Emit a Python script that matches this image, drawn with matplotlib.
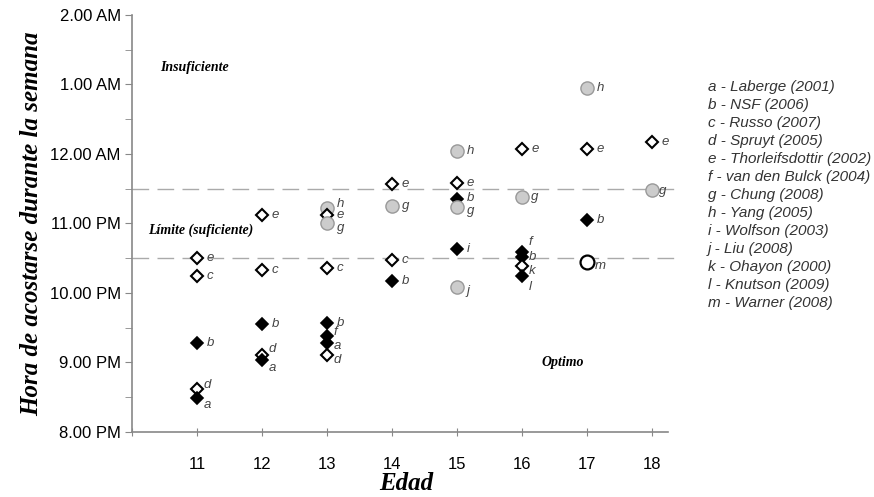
import matplotlib
matplotlib.use("Agg")
import matplotlib.pyplot as plt

# study key -> legend text
letters = ['a', 'b', 'c', 'd', 'e', 'f', 'g', 'h', 'i', 'j', 'k', 'l', 'm']
studies = ['Laberge (2001)', 'NSF (2006)', 'Russo (2007)', 'Spruyt (2005)',
           'Thorleifsdottir (2002)', 'van den Bulck (2004)', 'Chung (2008)',
           'Yang (2005)', 'Wolfson (2003)', 'Liu (2008)', 'Ohayon (2000)',
           'Knutson (2009)', 'Warner (2008)']

# points: age, bedtime in hours (24 = midnight), study letter
ages = [11, 11, 11, 11, 11,
        12, 12, 12, 12, 12,
        13, 13, 13, 13, 13, 13, 13, 13,
        14, 14, 14, 14,
        15, 15, 15, 15, 15, 15,
        16, 16, 16, 16, 16, 16,
        17, 17, 17, 17,
        18, 18]
hours = [22.50, 22.25, 21.28, 20.62, 20.49,
         23.12, 22.33, 21.55, 21.11, 21.04,
         23.22, 23.12, 23.01, 22.36, 21.57, 21.38, 21.28, 21.11,
         23.57, 23.25, 22.47, 22.17,
         24.04, 23.58, 23.35, 23.24, 22.63, 22.09,
         24.07, 23.38, 22.59, 22.52, 22.39, 22.25,
         24.95, 24.07, 23.05, 22.45,
         24.17, 23.48]
keys = ['e', 'c', 'b', 'd', 'a',
        'e', 'c', 'b', 'd', 'a',
        'h', 'e', 'g', 'c', 'b', 'f', 'a', 'd',
        'e', 'g', 'c', 'b',
        'h', 'e', 'b', 'g', 'i', 'j',
        'e', 'g', 'f', 'b', 'k', 'l',
        'h', 'e', 'b', 'm',
        'e', 'g']

ytick_vals = [20, 21, 22, 23, 24, 25, 26]
ytick_labels = ['8.00 PM', '9.00 PM', '10.00 PM', '11.00 PM', '12.00 AM', '1.00 AM', '2.00 AM']
limits = [22.5, 23.5]

filled = dict(marker='D', ms=6.5, mfc='black', mec='black', mew=1.2)
opend = dict(marker='D', ms=6.5, mfc='white', mec='black', mew=1.5)
grayc = dict(marker='o', ms=9.5, mfc='#cccccc', mec='#999999', mew=1.0)
openc = dict(marker='o', ms=10, mfc='white', mec='black', mew=1.6)
style = {'a': filled, 'b': filled, 'f': filled, 'i': filled, 'l': filled,
         'c': opend, 'd': opend, 'e': opend, 'k': opend,
         'g': grayc, 'h': grayc, 'j': grayc, 'm': openc}

# label offsets in points (default right of marker)
offsets = {(11, 'd'): (5, 3), (11, 'a'): (5, -5),
           (12, 'd'): (5, 4), (12, 'a'): (5, -6),
           (13, 'h'): (7, 3), (13, 'g'): (7, -4), (13, 'f'): (5, 3),
           (13, 'a'): (5, -2), (13, 'd'): (5, -4),
           (15, 'b'): (7, 1), (15, 'g'): (7, -3), (15, 'j'): (7, -3),
           (16, 'f'): (5, 7), (16, 'b'): (5, 0), (16, 'k'): (5, -4),
           (16, 'l'): (5, -8), (17, 'm'): (6, -3), (18, 'g'): (5, -1)}

serif = 'Liberation Serif'
sans = 'Liberation Sans'

fig = plt.figure(figsize=(8.74, 4.97), dpi=100)
ax = fig.add_axes([0.151, 0.131, 0.628, 0.839])

for y in limits:
    ax.axhline(y, color='#aaaaaa', lw=1.0, dashes=(12, 6), zorder=1)

for x, h, k in zip(ages, hours, keys):
    ax.plot([x], [h], linestyle='none', zorder=3, **style[k])
    dx, dy = offsets.get((x, k), (7, 0))
    ax.annotate(k, (x, h), xytext=(dx, dy), textcoords='offset points',
                ha='left', va='center', fontsize=9.5, style='italic',
                family=sans, color='#444444', zorder=4)

ax.set_xlim(10, 18.45)
ax.set_ylim(20, 26)
ax.spines['top'].set_visible(False)
ax.spines['right'].set_visible(False)
ax.spines['bottom'].set_bounds(10, 18.25)
for s in ['left', 'bottom']:
    ax.spines[s].set_color('#888888')
    ax.spines[s].set_linewidth(1.2)

ax.set_yticks(ytick_vals)
ax.set_yticklabels(ytick_labels, family=sans, fontsize=12)
ax.set_yticks([v + 0.5 for v in ytick_vals[:-1]], minor=True)
ax.tick_params(axis='y', which='both', length=5, color='#888888', pad=3)
ax.set_xticks(range(10, 19))
ax.set_xticklabels([''] + [str(a) for a in range(11, 19)], family=sans, fontsize=12)
ax.tick_params(axis='x', direction='inout', length=6, color='#888888', pad=15)

ax.set_xlabel('Edad', family=serif, fontsize=18, weight='bold', style='italic', labelpad=0)
ax.set_ylabel('Hora de acostarse durante la semana', family=serif, fontsize=18,
              weight='bold', style='italic', labelpad=5)

ax.text(10.43, 25.25, 'Insuficiente', family=serif, fontsize=10, weight='bold',
        style='italic', va='center')
ax.text(10.25, 22.9, 'Límite (suficiente)', family=serif, fontsize=10, weight='bold',
        style='italic', va='center')
ax.text(16.3, 21.0, 'Optimo', family=serif, fontsize=10, weight='bold',
        style='italic', va='center')

for i, (l, s) in enumerate(zip(letters, studies)):
    fig.text(0.810, 1 - (87 + 18 * i) / 497, l + ' - ' + s, family=sans,
             style='italic', fontsize=11, color='#333333', va='center')

fig.savefig('out.png', dpi=100)
